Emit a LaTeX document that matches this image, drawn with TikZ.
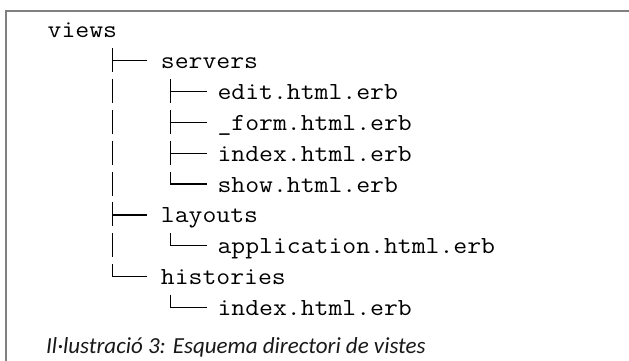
\documentclass[tikz,border=0pt]{standalone}
\usepackage{fontspec}
\newfontfamily\codefont[FakeStretch=1.10]{Latin Modern Mono}
\newfontfamily\capfont{Carlito}
\begin{document}
\begin{tikzpicture}[x=1pt,y=-1pt,
  code/.style={font=\codefont\fontsize{24.5}{28}\selectfont, anchor=base west, inner sep=0pt, text=black},
  branch/.style={line width=1.4pt, black, line cap=rect},
  trunk/.style={line width=1.4pt, black, dash pattern=on 24pt off 6.8pt},
  frame/.style={draw=black!50, line width=1.5pt},
  captext/.style={font=\capfont\itshape\fontsize{23}{26}\selectfont, anchor=base west, inner sep=0pt, text=black!90}]
\useasboundingbox (0,0) rectangle (629,361);
\clip (0,0) rectangle (629,361);
\fill[white] (0,0) rectangle (629,361);
\draw[frame] (700,11) -- (6,11) -- (6,400);
% text rows
\node[code] (views)   at (47.5,38.0)  {views};
\node[code] (servers) at (160.7,68.8) {servers};
\node[code] (edit)    at (217.3,99.6) {edit.html.erb};
\node[code] (form)    at (217.3,130.4) {\_form.html.erb};
\node[code] (index1)  at (217.3,161.2) {index.html.erb};
\node[code] (show)    at (217.3,192.0) {show.html.erb};
\node[code] (layouts) at (160.7,222.8) {layouts};
\node[code] (app)     at (217.3,253.6) {application.html.erb};
\node[code] (hist)    at (160.7,284.4) {histories};
\node[code] (index2)  at (217.3,315.2) {index.html.erb};
\node[captext] (cap) at (46,353.5) {Il·lustració 3: Esquema directori de vistes};
% level-1 trunk and branches
\draw[trunk] ([xshift=-48pt,yshift=20.5pt]servers.base west) -- ([xshift=-48pt,yshift=8pt]hist.base west);
\foreach \n in {servers,layouts,hist}
  \draw[branch] ([xshift=-48pt,yshift=8pt]\n.base west) -- ([xshift=-14pt,yshift=8pt]\n.base west);
% level-2 trunks and branches
\draw[trunk] ([xshift=-46.6pt,yshift=20.5pt]edit.base west) -- ([xshift=-46.6pt,yshift=8pt]show.base west);
\draw[trunk] ([xshift=-46.6pt,yshift=20.5pt]app.base west) -- ([xshift=-46.6pt,yshift=8pt]app.base west);
\draw[trunk] ([xshift=-46.6pt,yshift=20.5pt]index2.base west) -- ([xshift=-46.6pt,yshift=8pt]index2.base west);
\foreach \n in {edit,form,index1,show,app,index2}
  \draw[branch] ([xshift=-46.6pt,yshift=8pt]\n.base west) -- ([xshift=-11.3pt,yshift=8pt]\n.base west);
\end{tikzpicture}
\end{document}
